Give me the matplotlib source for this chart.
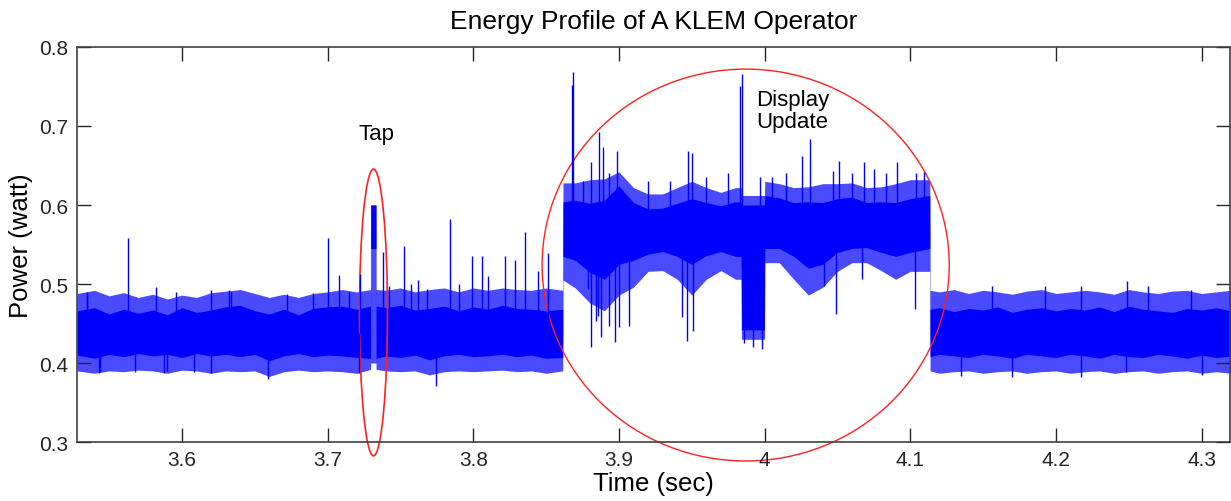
import matplotlib
matplotlib.use("Agg")
import matplotlib.pyplot as plt
from matplotlib.patches import Ellipse

plt.rcParams['font.family'] = ['Liberation Sans', 'DejaVu Sans']

# Envelope of the sampled power trace (sec, watt): dense core band and
# the outer band reached by the fast fluctuations.
env_t = [3.528, 3.54, 3.55, 3.56, 3.57, 3.58, 3.59, 3.60, 3.61, 3.62, 3.63,
         3.64, 3.65, 3.66, 3.67, 3.68, 3.69, 3.70, 3.71, 3.72, 3.7295, 3.7296,
         3.7332, 3.7333, 3.74, 3.75, 3.76, 3.77, 3.78, 3.79, 3.80, 3.81, 3.82,
         3.83, 3.84, 3.85, 3.8614, 3.8616, 3.87, 3.88, 3.89, 3.90, 3.91, 3.92,
         3.93, 3.94, 3.95, 3.96, 3.97, 3.98, 3.9839, 3.9841, 3.9999, 4.0001,
         4.01, 4.02, 4.03, 4.04, 4.05, 4.06, 4.07, 4.08, 4.09, 4.10, 4.1134,
         4.1136, 4.12, 4.13, 4.14, 4.15, 4.16, 4.17, 4.18, 4.19, 4.20, 4.21,
         4.22, 4.23, 4.24, 4.25, 4.26, 4.27, 4.28, 4.29, 4.30, 4.31, 4.32]
core_hi = [0.466, 0.470, 0.462, 0.468, 0.463, 0.467, 0.461, 0.470, 0.464, 0.467, 0.471,
           0.473, 0.466, 0.462, 0.468, 0.461, 0.469, 0.471, 0.472, 0.468, 0.472, 0.600,
           0.600, 0.472, 0.470, 0.473, 0.467, 0.469, 0.472, 0.466, 0.471, 0.468, 0.473,
           0.469, 0.468, 0.466, 0.468, 0.604, 0.606, 0.602, 0.606, 0.624, 0.603, 0.595,
           0.596, 0.602, 0.608, 0.603, 0.599, 0.604, 0.604, 0.600, 0.600, 0.612,
           0.609, 0.603, 0.604, 0.603, 0.608, 0.610, 0.603, 0.604, 0.603, 0.608, 0.612,
           0.468, 0.470, 0.465, 0.469, 0.467, 0.471, 0.464, 0.468, 0.470, 0.466, 0.469,
           0.467, 0.471, 0.465, 0.472, 0.468, 0.466, 0.464, 0.469, 0.467, 0.470, 0.466]
core_lo = [0.410, 0.406, 0.411, 0.408, 0.412, 0.409, 0.411, 0.407, 0.412, 0.409, 0.411,
           0.408, 0.411, 0.403, 0.409, 0.412, 0.408, 0.410, 0.409, 0.407, 0.406, 0.545,
           0.545, 0.406, 0.409, 0.407, 0.410, 0.404, 0.409, 0.411, 0.408, 0.409, 0.411,
           0.408, 0.410, 0.406, 0.407, 0.535, 0.530, 0.515, 0.506, 0.525, 0.530, 0.538,
           0.541, 0.535, 0.525, 0.536, 0.541, 0.535, 0.535, 0.442, 0.442, 0.545,
           0.545, 0.535, 0.520, 0.525, 0.540, 0.545, 0.546, 0.540, 0.535, 0.540, 0.545,
           0.408, 0.411, 0.409, 0.407, 0.411, 0.409, 0.406, 0.411, 0.409, 0.407, 0.411,
           0.409, 0.406, 0.411, 0.408, 0.407, 0.411, 0.409, 0.406, 0.410, 0.407, 0.409]
fringe_hi = [0.488, 0.492, 0.485, 0.489, 0.483, 0.487, 0.481, 0.486, 0.483, 0.489, 0.491,
             0.493, 0.488, 0.483, 0.487, 0.483, 0.488, 0.490, 0.493, 0.490, 0.493, 0.600,
             0.600, 0.493, 0.492, 0.495, 0.490, 0.493, 0.495, 0.490, 0.495, 0.492, 0.495,
             0.493, 0.492, 0.495, 0.492, 0.628, 0.628, 0.632, 0.633, 0.642, 0.622, 0.614,
             0.614, 0.622, 0.630, 0.622, 0.616, 0.622, 0.622, 0.612, 0.612, 0.630,
             0.627, 0.622, 0.623, 0.627, 0.627, 0.628, 0.622, 0.623, 0.627, 0.632, 0.632,
             0.492, 0.490, 0.493, 0.488, 0.492, 0.490, 0.487, 0.491, 0.493, 0.488, 0.490,
             0.492, 0.490, 0.487, 0.493, 0.490, 0.488, 0.491, 0.492, 0.488, 0.490, 0.492]
fringe_lo = [0.390, 0.387, 0.390, 0.389, 0.391, 0.390, 0.387, 0.391, 0.390, 0.387, 0.390,
             0.389, 0.390, 0.383, 0.389, 0.391, 0.389, 0.390, 0.389, 0.387, 0.392, 0.400,
             0.400, 0.392, 0.390, 0.389, 0.390, 0.385, 0.389, 0.390, 0.389, 0.390, 0.391,
             0.389, 0.390, 0.387, 0.390, 0.505, 0.495, 0.476, 0.466, 0.486, 0.496, 0.516,
             0.517, 0.506, 0.486, 0.506, 0.517, 0.506, 0.506, 0.430, 0.430, 0.527,
             0.527, 0.506, 0.486, 0.496, 0.516, 0.527, 0.527, 0.517, 0.506, 0.516, 0.516,
             0.390, 0.387, 0.389, 0.390, 0.387, 0.389, 0.390, 0.387, 0.389, 0.390, 0.387,
             0.389, 0.390, 0.387, 0.389, 0.390, 0.387, 0.389, 0.390, 0.387, 0.389, 0.387]

# Isolated excursions beyond the band (sec, watt)
spike_t = [3.535, 3.5345, 3.563, 3.582, 3.596, 3.620, 3.632, 3.634, 3.672, 3.690,
           3.700, 3.7075, 3.715, 3.722, 3.7377,
           3.742, 3.7527, 3.757, 3.762, 3.768, 3.784, 3.790, 3.7993, 3.806, 3.810,
           3.822, 3.8288, 3.8356, 3.8445, 3.8514,
           3.8675, 3.8685, 3.875, 3.881, 3.886, 3.889, 3.893, 3.8986, 3.920, 3.935,
           3.9472, 3.950, 3.960, 3.975, 3.9834, 3.9845, 3.9966, 4.005, 4.015, 4.026,
           4.031, 4.047, 4.051, 4.060, 4.068, 4.075, 4.083, 4.091, 4.104, 4.1096,
           4.156, 4.1925, 4.217, 4.249, 4.263, 4.293,
           3.543, 3.544, 3.568, 3.588, 3.590, 3.608, 3.620, 3.659, 3.7215, 3.7746,
           3.879, 3.881, 3.884, 3.8856, 3.8877, 3.893, 3.897, 3.900, 3.907, 3.943,
           3.9466, 3.9507, 3.986, 3.992, 3.9985, 4.041, 4.049, 4.067, 4.103,
           4.135, 4.170, 4.217, 4.248, 4.300]
spike_v = [0.490, 0.488, 0.558, 0.496, 0.490, 0.492, 0.492, 0.490, 0.487, 0.488,
           0.558, 0.511, 0.490, 0.513, 0.540,
           0.497, 0.548, 0.500, 0.505, 0.494, 0.582, 0.500, 0.535, 0.535, 0.510,
           0.536, 0.530, 0.566, 0.517, 0.539,
           0.752, 0.768, 0.630, 0.654, 0.692, 0.673, 0.640, 0.668, 0.630, 0.630,
           0.668, 0.666, 0.635, 0.640, 0.750, 0.766, 0.635, 0.635, 0.640, 0.662,
           0.684, 0.643, 0.656, 0.640, 0.654, 0.645, 0.640, 0.654, 0.640, 0.642,
           0.497, 0.497, 0.497, 0.504, 0.497, 0.492,
           0.387, 0.389, 0.388, 0.387, 0.390, 0.388, 0.387, 0.380, 0.387, 0.371,
           0.494, 0.420, 0.453, 0.460, 0.433, 0.447, 0.427, 0.446, 0.447, 0.458,
           0.428, 0.441, 0.425, 0.420, 0.418, 0.497, 0.462, 0.506, 0.468,
           0.384, 0.382, 0.382, 0.388, 0.385]

x_ticks = [3.6, 3.7, 3.8, 3.9, 4.0, 4.1, 4.2, 4.3]
x_tick_labels = ['3.6', '3.7', '3.8', '3.9', '4', '4.1', '4.2', '4.3']
y_ticks = [0.3, 0.4, 0.5, 0.6, 0.7, 0.8]

BLUE = '#0000ff'

fig = plt.figure(figsize=(12.31, 5.02), dpi=100)
ax = fig.add_axes([0.0626, 0.1175, 0.9366, 0.7869])

ax.fill_between(env_t, fringe_lo, fringe_hi, color='#4a4aff', lw=0)
ax.fill_between(env_t, core_lo, core_hi, color=BLUE, lw=0)

# spikes start from the centre of the local band
for t, v in zip(spike_t, spike_v):
    i = max(k for k in range(len(env_t)) if env_t[k] <= t)
    mid = 0.5 * (core_lo[i] + core_hi[i])
    ax.vlines(t, min(mid, v), max(mid, v), color=BLUE, lw=1.0)

# annotations
ax.add_patch(Ellipse((3.7315, 0.464), 0.0192, 0.363, fill=False,
                     edgecolor='#ff2020', lw=1.2, clip_on=False))
ax.add_patch(Ellipse((3.987, 0.524), 0.2795, 0.496, fill=False,
                     edgecolor='#ff2020', lw=1.0, clip_on=False))
ax.text(3.7335, 0.69, 'Tap', ha='center', va='center', fontsize=16)
ax.text(4.019, 0.7196, 'Display\nUpdate', ha='center', va='center',
        fontsize=16, linespacing=1.12)

ax.set_xlim(3.528, 4.3195)
ax.set_ylim(0.3, 0.8)
ax.set_xticks(x_ticks)
ax.set_xticklabels(x_tick_labels)
ax.set_yticks(y_ticks)
ax.set_yticklabels([f'{v:.1f}' for v in y_ticks])
ax.tick_params(direction='in', length=10, width=1, colors='#262626',
               labelsize=15, top=True, right=True, pad=6)
for s in ax.spines.values():
    s.set_color('#404040')
    s.set_linewidth(1.2)

ax.set_title('Energy Profile of A KLEM Operator', fontsize=19, pad=14)
ax.set_xlabel('Time (sec)', fontsize=18.5, labelpad=1)
ax.set_ylabel('Power (watt)', fontsize=18.5, labelpad=5)

fig.savefig('out.png', dpi=100)
